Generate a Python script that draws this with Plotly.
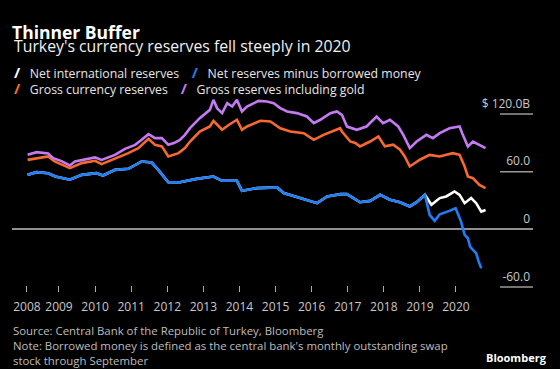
import plotly.graph_objects as go

# ---------------- data (decimal years, $ billions) ----------------
gold_x = [2008.13, 2008.38, 2008.70, 2008.84, 2009.07, 2009.30, 2009.44, 2009.63, 2010.00, 2010.18,
          2010.55, 2010.83, 2011.11, 2011.29, 2011.48, 2011.66, 2011.85, 2012.03, 2012.20, 2012.35,
          2012.49, 2012.63, 2012.90, 2013.18, 2013.28, 2013.38, 2013.52, 2013.66, 2013.80, 2013.93,
          2014.07, 2014.21, 2014.53, 2014.76, 2014.95, 2015.13, 2015.32, 2015.59, 2015.87, 2016.06,
          2016.24, 2016.52, 2016.70, 2016.84, 2016.93, 2016.98, 2017.25, 2017.52, 2017.80, 2017.98,
          2018.17, 2018.40, 2018.54, 2018.72, 2018.91, 2019.18, 2019.36, 2019.55, 2019.82, 2020.10,
          2020.19, 2020.33, 2020.47, 2020.65, 2020.82]
gold_y = [77.5, 80.3, 79.0, 74.0, 71.0, 66.5, 70.6, 72.3, 74.8, 72.3,
          77.5, 83.7, 87.9, 93.1, 99.0, 94.9, 94.9, 87.9, 90.0, 93.1,
          98.3, 105.3, 115.7, 124.3, 134.7, 126.1, 120.9, 131.3, 127.8, 134.7,
          122.6, 127.8, 133.7, 133.0, 131.3, 126.1, 122.6, 120.9, 117.4, 110.5,
          114.0, 120.9, 122.6, 119.1, 110.5, 106.9, 103.6, 107.0, 117.4, 110.5,
          114.0, 107.0, 98.3, 84.5, 91.4, 98.3, 94.9, 100.1, 105.2, 107.0,
          98.3, 86.2, 91.4, 88.0, 84.5]

gross_x = [2008.13, 2008.70, 2008.88, 2009.30, 2009.63, 2010.00, 2010.18, 2010.55, 2010.92, 2011.20,
           2011.48, 2011.66, 2011.85, 2012.03, 2012.31, 2012.49, 2012.63, 2012.90, 2013.18, 2013.28,
           2013.52, 2013.71, 2013.93, 2014.07, 2014.21, 2014.58, 2014.86, 2015.13, 2015.41, 2015.78,
           2016.06, 2016.33, 2016.66, 2016.79, 2016.84, 2016.98, 2017.07, 2017.21, 2017.34, 2017.62,
           2017.85, 2018.03, 2018.26, 2018.45, 2018.58, 2018.72, 2019.00, 2019.27, 2019.55, 2019.91,
           2020.10, 2020.24, 2020.33, 2020.47, 2020.65, 2020.82]
gross_y = [72.3, 75.8, 70.6, 63.7, 68.9, 71.3, 67.8, 73.4, 79.3, 84.5,
           94.2, 87.9, 86.3, 75.8, 79.3, 84.5, 91.4, 101.8, 107.0, 112.9,
           103.6, 108.8, 114.0, 103.6, 107.0, 112.9, 112.2, 105.2, 101.8, 100.1,
           93.1, 98.3, 103.6, 105.2, 101.8, 94.9, 91.4, 89.8, 86.3, 91.4,
           96.6, 86.3, 88.0, 82.8, 75.8, 65.4, 72.4, 77.5, 75.8, 79.3,
           77.5, 65.4, 55.0, 53.2, 46.3, 42.9]

net_x = [2008.13, 2008.38, 2008.70, 2008.90, 2009.30, 2009.63, 2010.04, 2010.22, 2010.55, 2010.92,
         2011.29, 2011.57, 2011.75, 2012.03, 2012.35, 2012.81, 2013.28, 2013.52, 2013.93, 2014.07,
         2014.49, 2015.04, 2015.23, 2015.69, 2016.15, 2016.43, 2016.80, 2016.98, 2017.21, 2017.34,
         2017.62, 2017.90, 2018.17, 2018.45, 2018.72, 2018.91, 2019.14, 2019.32, 2019.55, 2019.73,
         2019.96, 2020.10, 2020.24, 2020.42, 2020.56, 2020.70, 2020.82]
net_y = [56.7, 59.5, 58.4, 55.0, 51.6, 56.7, 58.4, 56.0, 61.9, 63.0,
         70.6, 69.5, 61.9, 49.0, 49.0, 52.5, 55.0, 50.5, 50.5, 40.1,
         42.9, 43.6, 37.7, 32.5, 27.2, 34.2, 36.6, 36.6, 30.8, 28.2,
         29.6, 35.9, 30.8, 28.2, 23.8, 28.2, 35.9, 25.5, 32.5, 34.2,
         39.4, 35.9, 27.2, 32.5, 27.2, 18.5, 20.2]

swap_x = [2008.13, 2008.38, 2008.70, 2008.90, 2009.30, 2009.63, 2010.04, 2010.22, 2010.55, 2010.92,
          2011.29, 2011.57, 2011.75, 2012.03, 2012.35, 2012.81, 2013.28, 2013.52, 2013.93, 2014.07,
          2014.49, 2015.04, 2015.23, 2015.69, 2016.15, 2016.43, 2016.80, 2016.98, 2017.21, 2017.34,
          2017.62, 2017.90, 2018.17, 2018.45, 2018.72, 2018.91, 2019.14, 2019.20, 2019.27, 2019.41,
          2019.55, 2019.82, 2019.99, 2020.14, 2020.24, 2020.33, 2020.39, 2020.47, 2020.56, 2020.63,
          2020.70]
swap_y = [56.7, 59.5, 58.4, 55.0, 51.6, 56.7, 58.4, 56.0, 61.9, 63.0,
          70.6, 69.5, 61.9, 49.0, 49.0, 52.5, 55.0, 50.5, 50.5, 40.1,
          42.9, 43.6, 37.7, 32.5, 27.2, 34.2, 36.6, 36.6, 30.8, 28.2,
          29.6, 35.9, 30.8, 28.2, 23.8, 28.2, 35.9, 27.2, 15.1, 8.8,
          15.7, 19.2, 22.0, 8.1, -5.8, -9.3, -18.0, -21.4, -24.9, -33.6,
          -40.5]

series_names = ["Net international reserves", "Net reserves minus borrowed money",
                "Gross currency reserves", "Gross reserves including gold"]
series_colors = ["#ffffff", "#1f7ef5", "#f8692f", "#c47af3"]
series_x = [net_x, swap_x, gross_x, gold_x]
series_y = [net_y, swap_y, gross_y, gold_y]

x_tick_vals = [2008.113, 2009, 2010, 2011, 2012, 2013, 2014, 2015, 2016, 2017, 2018, 2019, 2020]
x_tick_text = ["2008", "2009", "2010", "2011", "2012", "2013", "2014", "2015", "2016", "2017",
               "2018", "2019", "2020"]
y_tick_vals = [120, 60, 0, -60]
y_tick_text = ["$ 120.0B", "60.0", "0", "-60.0"]

FONT = "Open Sans"
W, H = 560, 369
ML, MR, MT, MB = 12, 27, 90, 77
PW, PH = W - ML - MR, H - MT - MB


def px_x(px):
    return (px - ML) / PW


def px_y(py):
    return (H - MB - py) / PH


fig = go.Figure()
for name, color, xs, ys in zip(series_names, series_colors, series_x, series_y):
    fig.add_trace(go.Scatter(x=xs, y=ys, mode="lines", name=name,
                             line=dict(color=color, width=2.6), showlegend=False,
                             hoverinfo="skip"))

# short gridline segments in the label column
shapes = []
for v in y_tick_vals:
    if v == 0:
        continue
    shapes.append(dict(type="line", xref="paper", yref="y", x0=px_x(500), x1=1.0, y0=v, y1=v,
                       line=dict(color="#9a9a9a", width=1.5), layer="below"))

annotations = []
annotations.append(dict(
    xref="paper", yref="paper", x=px_x(12), y=px_y(46), xanchor="left", yanchor="middle",
    text="Turkey's currency reserves fell steeply in 2020", showarrow=False,
    font=dict(family=FONT, size=15.8, color="#f0f0f0")))


# legend: two rows of entries, flowing left to right
def legend_entry(i):
    return (f'<span style="color:{series_colors[i]};font-size:15px"><b>/</b></span>'
            f'&nbsp;&nbsp;&nbsp;{series_names[i]}')


legend_rows = [[0, 1], [2, 3]]
legend_text = "<br>".join("&nbsp;&nbsp;&nbsp;&nbsp;".join(legend_entry(i) for i in row)
                          for row in legend_rows)
annotations.append(dict(
    xref="paper", yref="paper", x=px_x(12), y=px_y(80), xanchor="left", yanchor="middle",
    align="left", text=legend_text, showarrow=False,
    font=dict(family=FONT, size=12.3, color="#e6e6e6")))

annotations.append(dict(
    xref="paper", yref="paper", x=px_x(11), y=px_y(321), xanchor="left", yanchor="top",
    align="left", showarrow=False,
    text=("Source: Central Bank of the Republic of Turkey, Bloomberg<br>"
          "Note: Borrowed money is defined as the central bank's monthly outstanding swap<br>"
          "stock through September"),
    font=dict(family=FONT, size=11.4, color="#bdbdbd")))
annotations.append(dict(
    xref="paper", yref="paper", x=px_x(549), y=px_y(357), xanchor="right", yanchor="middle",
    text="<b>Bloomberg</b>", showarrow=False,
    font=dict(family=FONT, size=11, color="#ffffff")))

fig.update_layout(
    width=W, height=H,
    margin=dict(l=ML, r=MR, t=MT, b=MB),
    paper_bgcolor="#000000", plot_bgcolor="#000000",
    title=dict(text="<b>Thinner Buffer</b>", x=12 / W, xanchor="left", xref="container",
               y=1 - 33 / H, yanchor="middle", yref="container",
               font=dict(family=FONT, size=17.5, color="#ffffff")),
    xaxis=dict(range=[2007.698, 2022.134], showgrid=False, zeroline=False, showline=False,
               tickmode="array", tickvals=x_tick_vals, ticktext=x_tick_text,
               ticks="inside", ticklen=6, tickwidth=1, tickcolor="#aaaaaa",
               ticklabelstandoff=6,
               tickfont=dict(family=FONT, size=12, color="#c8c8c8"), fixedrange=True),
    yaxis=dict(range=[-65.2, 144.97], side="right", showgrid=False, showline=False,
               zeroline=True, zerolinecolor="#8f8f8f", zerolinewidth=1.5,
               tickmode="array", tickvals=y_tick_vals, ticktext=y_tick_text,
               ticklabelposition="inside top", ticks="", ticklabelshift=-2,
               tickfont=dict(family=FONT, size=12, color="#c8c8c8"), fixedrange=True),
    shapes=shapes,
    annotations=annotations,
    showlegend=False,
)

fig.write_html("out.html", config={"displayModeBar": False},
               post_script="document.body.style.margin='0';document.body.style.background='#000';")
